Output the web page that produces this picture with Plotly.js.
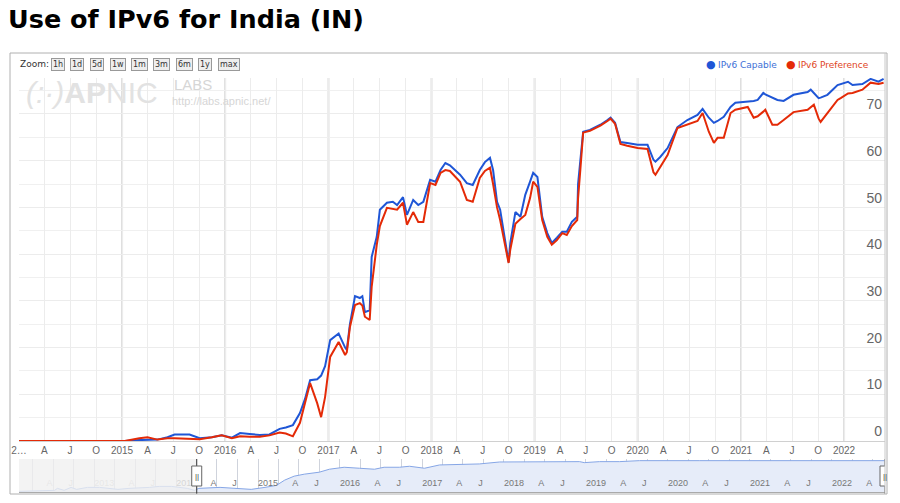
<!DOCTYPE html>
<html><head><meta charset="utf-8">
<script src="https://cdn.plot.ly/plotly-3.0.1.min.js"></script>
<style>html,body{margin:0;padding:0;background:#fff;}#chart{width:900px;height:503px;}</style>
</head><body><div id="chart"></div>
<script>
// ---------- data ----------
const dates = ['2014-01-01','2015-01-11','2015-03-03','2015-04-01','2015-05-06','2015-06-11','2015-07-06','2015-08-28','2015-10-03','2015-11-15','2015-12-20',
'2016-01-25','2016-02-23','2016-03-28','2016-05-03','2016-06-06','2016-07-12','2016-08-03','2016-08-28','2016-09-22','2016-10-10','2016-10-28','2016-11-22','2016-12-06','2016-12-20',
'2017-01-07','2017-02-06','2017-03-01','2017-03-07','2017-03-18','2017-04-05','2017-04-22','2017-05-01','2017-05-10','2017-05-27','2017-06-03','2017-06-21','2017-07-02','2017-07-27','2017-08-17','2017-09-01','2017-09-22','2017-10-06','2017-10-28','2017-11-15','2017-12-03','2017-12-27',
'2018-01-15','2018-02-02','2018-02-19','2018-03-07','2018-04-12','2018-05-06','2018-05-27','2018-06-21','2018-07-09','2018-07-27','2018-08-07','2018-08-21','2018-09-01','2018-09-12','2018-09-27','2018-10-01','2018-10-07','2018-10-25','2018-11-12','2018-11-29','2018-12-16','2018-12-27',
'2019-01-11','2019-01-28','2019-02-15','2019-03-03','2019-03-21','2019-04-09','2019-04-25','2019-05-13','2019-06-01','2019-06-04','2019-06-12','2019-06-22','2019-07-16','2019-08-22','2019-09-16','2019-09-27','2019-10-13','2019-11-01','2019-11-25',
'2020-01-01','2020-02-05','2020-02-26','2020-03-04','2020-03-21','2020-04-16','2020-05-21','2020-06-25','2020-07-31','2020-08-18','2020-09-09','2020-09-27','2020-10-10','2020-11-01','2020-11-25','2020-12-12',
'2021-01-25','2021-02-15','2021-03-01','2021-03-21','2021-03-28','2021-04-22','2021-05-10','2021-06-01','2021-07-06','2021-08-25','2021-09-05','2021-09-16','2021-10-03','2021-10-10','2021-11-03','2021-12-09','2021-12-20',
'2022-01-15','2022-01-31','2022-03-07','2022-04-05','2022-05-03','2022-05-21'];
const capable = [0,0,0.2,0.3,0.3,0.8,1.4,1.4,0.6,0.8,1.2,
0.7,1.7,1.5,1.3,1.4,2.6,2.9,3.4,6,9,13,13.2,14,16,
21.6,23,20,19.5,25,31,30.6,31,27.6,28,39.4,43.7,49.5,51,51.2,50.5,52.2,48.4,51.6,50.5,51.2,55.9,
55.5,58,59.5,59,57,55.2,54.8,58,59.7,60.6,58,51.2,49.5,45,39.4,38.3,42.4,49,48,52.7,55.5,57.4,
56.5,48,44.5,42.4,43.5,44.8,44.8,46.9,48,55,60,66.2,66.6,67.7,68.7,69.2,68.1,64,63.8,
63.4,63.4,60.2,59.8,60.8,62.7,67.2,68.7,69.8,71.1,69.2,68.1,68.5,69.4,71.5,72.4,
72.6,72.8,73,74.5,74.2,73.4,73,72.8,74.1,74.7,75.2,74.5,73.4,73.5,74.1,76.2,76.4,
76.9,76.2,76.4,77.5,76.9,77.5];
const preference = [0,0,0.6,0.8,0.3,0.6,0.6,0.5,0.4,0.8,1.2,
0.6,1.0,0.9,0.9,1.2,1.8,1.6,1.0,3.9,8,12.4,8.1,5.1,9.4,
18,21.2,18.4,19,24.4,29.1,29.5,29,26.6,25.9,33,42,46,49.9,49.7,49.5,51,46.3,49,46.9,46.9,55.2,
54.8,57.4,58,57.8,55.5,51.6,51.2,56.3,57.8,58.5,55,50,47.3,44,39,38.1,41,46.5,47.5,48.4,52,55.5,
54.4,47.3,43.7,42,43,44.5,44.1,46,47.3,52,58,66,66.4,67.5,68.5,69,67.9,63.6,63.2,
62.7,62.5,57.5,57,58.7,61.2,67,67.7,68.5,70.2,66.2,63.8,64.9,64.9,70.2,70.9,
71.5,69.2,69.5,70.5,70.9,67.7,67.7,68.7,70.4,70.9,71.5,72,69,68.3,70.2,73,73.4,
74.4,74.5,75.2,76.7,76.4,76.7];

// range navigator series
const navDates = ['2011-11-01','2012-04-08','2012-04-20','2012-05-20','2012-06-20','2012-07-15','2012-09-01','2012-10-25','2013-01-15','2013-03-05','2013-06-05','2013-07-18','2013-09-10','2013-11-20','2013-12-22',
'2014-01-10','2014-04-15','2014-07-10','2014-09-01','2014-11-01','2014-12-22','2015-01-28','2015-03-11','2015-04-25','2015-07-01','2015-08-15','2015-10-20','2015-12-27',
'2016-03-03','2016-04-15','2016-06-22','2016-08-06','2016-10-12','2016-12-18','2017-06-13','2017-09-12','2018-09-03','2018-09-24','2018-12-01','2019-02-28','2019-05-28','2020-02-18','2022-05-25'];
const navValues = [2,5,11,5,14,8,14,14,8,11,14,17,17,11,5,
11,14,11,8,14,20,36,48,54,60,69,75,72,
69,75,75,78,72,82,85,91,92,89,92,92,95,95,95];

// tick labels
const mainTickVals = ['2014-01-01','2014-04-01','2014-07-01','2014-10-01','2015-01-01','2015-04-01','2015-07-01','2015-10-01','2016-01-01','2016-04-01','2016-07-01','2016-10-01',
'2017-01-01','2017-04-01','2017-07-01','2017-10-01','2018-01-01','2018-04-01','2018-07-01','2018-10-01','2019-01-01','2019-04-01','2019-07-01','2019-10-01',
'2020-01-01','2020-04-01','2020-07-01','2020-10-01','2021-01-01','2021-04-01','2021-07-01','2021-10-01','2022-01-01','2022-04-01'];
const mainTickText = ['2…','A','J','O','2015','A','J','O','2016','A','J','O','2017','A','J','O','2018','A','J','O','2019','A','J','O','2020','A','J','O','2021','A','J','O','2022',''];
const yearLines = ['2015-01-01','2016-01-01','2017-01-01','2018-01-01','2019-01-01','2020-01-01','2021-01-01','2022-01-01'];
const navTickVals = ['2012-01-01','2012-04-01','2012-07-01','2012-10-01','2013-01-01','2013-04-01','2013-07-01','2013-10-01','2014-01-01','2014-04-01','2014-07-01','2014-10-01',
'2015-01-01','2015-04-01','2015-07-01','2015-10-01','2016-01-01','2016-04-01','2016-07-01','2016-10-01','2017-01-01','2017-04-01','2017-07-01','2017-10-01',
'2018-01-01','2018-04-01','2018-07-01','2018-10-01','2019-01-01','2019-04-01','2019-07-01','2019-10-01','2020-01-01','2020-04-01','2020-07-01','2020-10-01',
'2021-01-01','2021-04-01','2021-07-01','2021-10-01','2022-01-01','2022-04-01'];
const navTickText = ['','A','J','','2013','A','J','','2014','A','J','','2015','A','J','','2016','A','J','','2017','A','J','',
'2018','A','J','','2019','A','J','','2020','A','J','','2021','A','J','','2022','A'];
const zoomButtons = ['1h','1d','5d','1w','1m','3m','6m','1y','max'];
const seriesNames = ['IPv6 Capable','IPv6 Preference'];

// ---------- layout helpers ----------
const mainRange = ['2014-01-01','2022-05-26'];
const navRange = ['2011-11-01','2022-05-26'];
const L = 19, R = 885, T = 78, B = 492;
const px2x = p => (p - L) / (R - L);
const py2y = p => (B - p) / (B - T);
const navTop = py2y(459), mainBottom = py2y(441);
const BLUE = '#1f56d6', RED = '#e42a07';

const traces = [
  {x: navDates, y: navValues, xaxis: 'x2', yaxis: 'y2', type: 'scatter', mode: 'lines',
   fill: 'tozeroy', fillcolor: '#e6ecf9', line: {color: '#86a6e6', width: 1}, hoverinfo: 'skip', showlegend: false},
  {x: dates, y: capable, type: 'scatter', mode: 'lines', name: seriesNames[0], line: {color: BLUE, width: 2}, showlegend: false},
  {x: dates, y: preference, type: 'scatter', mode: 'lines', name: seriesNames[1], line: {color: RED, width: 2}, showlegend: false}
];

const shapes = [];
yearLines.forEach(d => shapes.push({type: 'line', xref: 'x', yref: 'paper', x0: d, x1: d, y0: mainBottom, y1: 1,
  line: {color: '#dedede', width: 2}, layer: 'below'}));
// navigator: unselected shading
shapes.push({type: 'rect', xref: 'x2', yref: 'paper', x0: navRange[0], x1: mainRange[0], y0: 0, y1: navTop,
  fillcolor: 'rgba(240,240,240,0.78)', line: {width: 0}, layer: 'above'});
// handles
[mainRange[0], mainRange[1]].forEach(d => {
  shapes.push({type: 'line', xref: 'x2', yref: 'paper', x0: d, x1: d, y0: py2y(494), y1: navTop, line: {color: '#333', width: 1}, layer: 'above'});
  shapes.push({type: 'rect', xref: 'x2', yref: 'paper', xsizemode: 'pixel', xanchor: d, x0: -5, x1: 5, y0: py2y(486), y1: py2y(466),
    fillcolor: '#fff', line: {color: '#666', width: 1}, layer: 'above'});
});
// outer frame
shapes.push({type: 'rect', xref: 'paper', yref: 'paper', x0: px2x(10), x1: px2x(887), y0: py2y(494), y1: py2y(53),
  line: {color: '#b0b0b0', width: 1}, fillcolor: 'rgba(0,0,0,0)'});
shapes.push({type: 'line', xref: 'paper', yref: 'paper', x0: px2x(885), x1: px2x(885), y0: py2y(494), y1: py2y(53),
  line: {color: '#c8c8c8', width: 1}});

const annotations = [];
// watermark
annotations.push({xref: 'paper', yref: 'paper', x: px2x(24), y: py2y(92), xanchor: 'left', yanchor: 'middle', showarrow: false,
  text: '<i>(:·)</i><b>AP</b>NIC', font: {family: 'Liberation Sans, Arial', size: 30, color: '#e2e2e2'}});
annotations.push({xref: 'paper', yref: 'paper', x: px2x(172), y: py2y(85), xanchor: 'left', yanchor: 'middle', showarrow: false,
  text: 'LABS', font: {family: 'Liberation Sans, Arial', size: 15, color: '#d6d6d6'}});
annotations.push({xref: 'paper', yref: 'paper', x: px2x(170), y: py2y(101), xanchor: 'left', yanchor: 'middle', showarrow: false,
  text: 'http://labs.apnic.net/', font: {family: 'Liberation Sans, Arial', size: 11, color: '#d6d6d6'}});
// zoom bar
annotations.push({xref: 'paper', yref: 'paper', x: px2x(18), y: py2y(64), xanchor: 'left', yanchor: 'middle', showarrow: false,
  text: 'Zoom:', font: {family: 'DejaVu Sans', size: 9, color: '#333'}});
const btnCenters = [58, 77, 96.5, 118, 139.5, 161.5, 184.5, 205, 229];
zoomButtons.forEach((b, i) => annotations.push({xref: 'paper', yref: 'paper', x: px2x(btnCenters[i]), y: py2y(64),
  xanchor: 'center', yanchor: 'middle', showarrow: false, text: b, bgcolor: '#eeeeee', bordercolor: '#999', borderwidth: 1, borderpad: 1,
  font: {family: 'DejaVu Sans', size: 8, color: '#333'}}));
// legend
[[BLUE, '#3d6fd6', 711, 716], [RED, '#e0441e', 791, 796]].forEach((c, i) => {
  annotations.push({xref: 'paper', yref: 'paper', x: px2x(c[2]), y: py2y(64.5), xanchor: 'center', yanchor: 'middle', showarrow: false,
    text: '●', font: {family: 'DejaVu Sans', size: 11, color: c[0]}});
  annotations.push({xref: 'paper', yref: 'paper', x: px2x(c[3]), y: py2y(64.5), xanchor: 'left', yanchor: 'middle', showarrow: false,
    text: seriesNames[i], font: {family: 'DejaVu Sans', size: 9, color: c[1]}});
});
// handle grips
[mainRange[0], mainRange[1]].forEach(d => annotations.push({xref: 'x2', yref: 'paper', x: d, y: py2y(476), xanchor: 'center', yanchor: 'middle',
  showarrow: false, text: '||', font: {family: 'Liberation Sans', size: 8, color: '#444'}}));

// navigator labels: faded before the selected window
const navTickStyled = navTickText.map((t, i) => navTickVals[i] < mainRange[0] ? '<span style="color:#c8c8c8">' + t + '</span>' : t);

const layout = {
  width: 900, height: 503,
  margin: {l: L, r: 900 - R, t: T, b: 503 - B, pad: 0},
  paper_bgcolor: '#fff', plot_bgcolor: '#fff',
  title: {text: 'Use of IPv6 for India (IN)', xref: 'container', yref: 'container', x: 8 / 900, xanchor: 'left', y: 1 - 19 / 503, yanchor: 'middle',
    font: {family: 'DejaVu Sans', size: 25.5, weight: 'bold', color: '#000'}},
  showlegend: false,
  xaxis: {type: 'date', range: mainRange, domain: [0, 1], anchor: 'y', tickmode: 'array', tickvals: mainTickVals, ticktext: mainTickText,
    tickangle: 0, showgrid: true, gridcolor: '#ececec', gridwidth: 1, zeroline: false, showline: true, linecolor: '#d0d0d0', linewidth: 1,
    ticks: '', tickfont: {family: 'Liberation Sans, Arial', size: 10, color: '#666'}, fixedrange: true},
  yaxis: {domain: [mainBottom, 1], anchor: 'x', range: [0, 77.7], side: 'right', tickmode: 'linear', tick0: 0, dtick: 10,
    ticklabelposition: 'inside top', showgrid: true, gridcolor: '#ececec', zeroline: false, showline: false, ticks: '',
    minor: {dtick: 5, tick0: 0, showgrid: true, gridcolor: '#f0f0f0'},
    tickfont: {family: 'Liberation Sans, Arial', size: 14, color: '#666'}, fixedrange: true},
  xaxis2: {type: 'date', range: navRange, domain: [0, 1], anchor: 'y2', tickmode: 'array', tickvals: navTickVals, ticktext: navTickStyled,
    tickangle: 0, ticklabelposition: 'inside left', showgrid: true, gridcolor: '#cfd3dc', zeroline: false, showline: true, linecolor: '#aaa',
    ticks: '', tickfont: {family: 'Liberation Sans, Arial', size: 9, color: '#777'}, fixedrange: true},
  yaxis2: {domain: [0, navTop], anchor: 'x2', range: [0, 100], showgrid: false, zeroline: false, showticklabels: false, showline: false, ticks: '', fixedrange: true},
  shapes: shapes,
  annotations: annotations
};

Plotly.newPlot('chart', traces, layout, {displayModeBar: false, staticPlot: true});
</script>
</body></html>
